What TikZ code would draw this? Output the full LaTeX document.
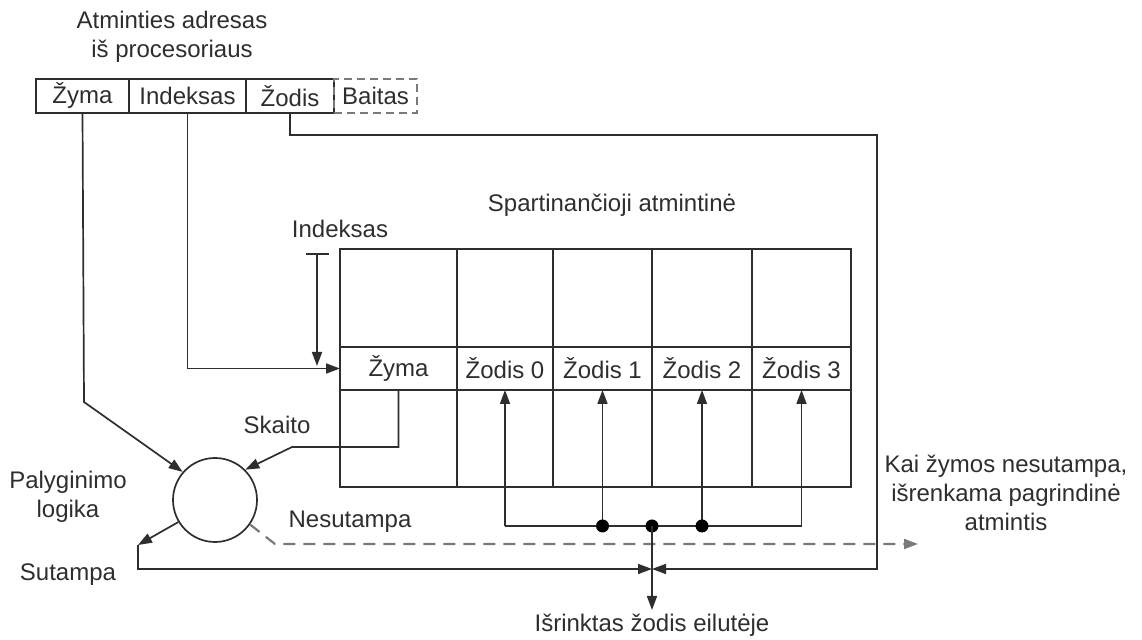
\documentclass[tikz,border=0pt]{standalone}
\usepackage{fontspec}
\setmainfont{Liberation Sans}
\usetikzlibrary{arrows.meta}
\usetikzlibrary{positioning}
\usepackage{xcolor}
\definecolor{inkgrey}{HTML}{2E2E2E}
\definecolor{dashgrey}{HTML}{7A7A7A}

\begin{document}
\begin{tikzpicture}[
  x=0.5pt, y=-0.5pt,
  every node/.style={font=\fontsize{12}{14.5}\selectfont, text=inkgrey},
  field/.style={rectangle, draw=inkgrey, line width=0.85pt, outer sep=0pt,
    minimum height=17pt, inner sep=0pt},
  bytefield/.style={field, draw=dashgrey, dash pattern=on 4pt off 2.5pt},
  cell/.style={rectangle, draw=inkgrey, line width=0.85pt, outer sep=0pt,
    minimum height=21.5pt, inner sep=0pt},
  grid/.style={draw=inkgrey, line width=0.85pt},
  comparator/.style={circle, draw=inkgrey, line width=0.85pt,
    minimum size=42pt, inner sep=0pt},
  note/.style={align=center, inner sep=2pt},
  arrow/.style={-{Triangle[length=7pt, width=5pt]}, line width=0.85pt, draw=inkgrey},
  wire/.style={line width=0.85pt, draw=inkgrey},
  missline/.style={-{Triangle[length=7pt, width=5pt]}, line width=1.1pt,
    draw=dashgrey, dash pattern=on 6pt off 4pt},
  junction/.style={circle, fill=black, inner sep=0pt, minimum size=6.5pt},
]
\useasboundingbox (0,0) rectangle (1142,640);

% === Address from the processor ===
\node[note] (addrtitle) at (172,37) {Atminties adresas\\iš procesoriaus};
\node[field, minimum width=46.5pt, anchor=west] (ftag) at (36,96) {Žyma};
\node[field, minimum width=58.5pt, right=0pt of ftag] (findex) {Indeksas};
\node[field, minimum width=44pt, right=0pt of findex] (fword) {Žodis};
\node[bytefield, minimum width=41.5pt, right=0pt of fword] (fbyte) {Baitas};

% === Cache ===
\node[note] (cachetitle) at (612,205) {Spartinančioji atmintinė};

\node[cell, minimum width=58.5pt, anchor=north west] (tag) at (340,347) {Žyma};
\node[cell, minimum width=48pt, right=0pt of tag] (w0) {Žodis 0};
\node[cell, minimum width=49.5pt, right=0pt of w0] (w1) {Žodis 1};
\node[cell, minimum width=50pt, right=0pt of w1] (w2) {Žodis 2};
\node[cell, minimum width=49.5pt, right=0pt of w2] (w3) {Žodis 3};

\draw[grid] ([yshift=49pt]tag.north west) rectangle ([yshift=-48.5pt]w3.south east);
\foreach \c in {tag,w0,w1,w2}
  \draw[grid] ([yshift=49pt]\c.north east) -- ([yshift=-48.5pt]\c.south east);

% Index marker
\node[note] (idxlabel) at (340,229) {Indeksas};
\coordinate (idxtop) at (317,254);
\draw[wire] ([xshift=-5.5pt]idxtop) -- ([xshift=6pt]idxtop);
\draw[arrow] (idxtop) -- (317,366);

% === Comparator ===
\node[comparator] (cmp) at (215,500) {};
\node[note] (cmplabel) at (68,497) {Palyginimo\\logika};
\node[note] (readlabel) at (277,425) {Skaito};
\node[note] (hitlabel) at (68,575) {Sutampa};
\node[note] (misslabel) at (350,522) {Nesutampa};

\coordinate (tagbend) at (84,402);
\coordinate (readbend) at (292,447);
\coordinate (hitbend) at (138,545);
\coordinate (missbend) at (275,544);
\coordinate (missend) at (918,544);
\coordinate (wordbend) at (877,135);
\coordinate (bus) at (652,526);
\coordinate (join) at (652,569);

% === Outputs ===
\node[note] (missmem) at (1006,493) {Kai žymos nesutampa,\\išrenkama pagrindinė\\atmintis};
\node[note, anchor=north] (selword) at (652,610) {Išrinktas žodis eilutėje};

% === Arrows ===
\draw[arrow] (findex.south) |- (tag.west);
\draw[arrow] (ftag.south) -- (tagbend) -- (cmp.139);
\draw[arrow] (tag.south) |- (readbend) -- (cmp.45);
\draw[arrow] (cmp.211) -- (hitbend);
\draw[arrow] (hitbend) |- (join);
\draw[missline] (cmp.-35) -- (missbend) -- (missend);
\draw[arrow] (fword.south) |- (wordbend) |- (join);

% Word select bus
\draw[wire] (w0.south |- bus) -- (w3.south |- bus);
\foreach \w in {w0,w1,w2,w3}
  \draw[arrow] (\w.south |- bus) -- (\w.south);
\node[junction] at (w1.south |- bus) {};
\node[junction] at (bus) {};
\node[junction] at (w2.south |- bus) {};
\draw[arrow] (bus) -- (selword.north);

\end{tikzpicture}
\end{document}
